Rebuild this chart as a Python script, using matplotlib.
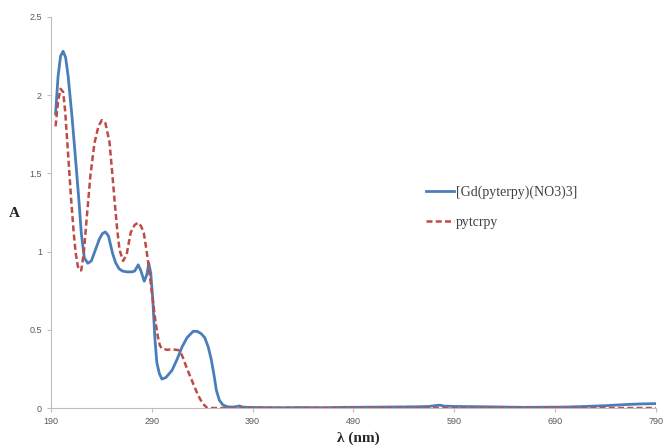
import matplotlib
matplotlib.use("Agg")
import matplotlib.pyplot as plt

# absorption spectra
gd_wl = [194.5, 197, 199.5, 202, 204.5, 207, 211, 215, 218, 220, 223, 226.5, 230,
         234, 238, 241, 244, 247, 251, 254, 257.5, 261, 265.5, 270, 273, 276.5,
         279, 282.5, 285, 287, 289, 291, 293, 295, 297.5, 300, 304, 310, 315,
         320, 325, 331, 335, 339, 342.5, 346, 349, 352, 354, 357, 360.5, 365,
         370, 374, 377, 380, 385, 400, 420, 440, 460, 480, 500, 520, 540, 555,
         565, 572, 576, 580, 590, 605, 620, 640, 660, 680, 700, 720, 740, 760,
         775, 790]
gd_abs = [1.88, 2.12, 2.25, 2.28, 2.24, 2.12, 1.85, 1.54, 1.3, 1.12, 0.96, 0.925,
          0.94, 1.01, 1.08, 1.115, 1.125, 1.1, 0.99, 0.93, 0.89, 0.875, 0.87,
          0.87, 0.875, 0.915, 0.88, 0.81, 0.85, 0.925, 0.86, 0.69, 0.45, 0.29,
          0.22, 0.185, 0.195, 0.24, 0.31, 0.39, 0.45, 0.49, 0.49, 0.475, 0.45,
          0.39, 0.31, 0.2, 0.115, 0.05, 0.02, 0.008, 0.006, 0.009, 0.013, 0.006,
          0.004, 0.003, 0.002, 0.003, 0.002, 0.004, 0.005, 0.006, 0.007, 0.008,
          0.01, 0.016, 0.018, 0.012, 0.01, 0.009, 0.008, 0.006, 0.004, 0.005,
          0.006, 0.01, 0.015, 0.022, 0.026, 0.028]

lig_wl = [194.5, 197, 199.5, 202, 204, 207, 210, 212.5, 214.5, 216.5, 218, 220,
          222.5, 225.5, 229, 233, 237, 240.5, 244, 248, 250.5, 253, 255.5, 258,
          261.5, 265, 269, 273, 276.5, 279.5, 282, 284, 286, 288.5, 291, 293.5,
          296, 298, 300, 305, 310, 316.5, 319, 321, 325, 329.5, 334, 337.5, 341,
          345, 360, 400, 500, 600, 700, 790]
lig_abs = [1.8, 1.96, 2.04, 2.02, 1.9, 1.62, 1.33, 1.12, 0.99, 0.91, 0.88, 0.88,
           0.99, 1.22, 1.48, 1.69, 1.8, 1.84, 1.82, 1.7, 1.52, 1.33, 1.15, 1.01,
           0.94, 0.98, 1.12, 1.17, 1.185, 1.16, 1.12, 1.04, 0.95, 0.82, 0.69,
           0.56, 0.456, 0.4, 0.38, 0.372, 0.375, 0.37, 0.35, 0.32, 0.25, 0.18,
           0.11, 0.062, 0.025, 0.0, 0.0, 0.0, 0.0, 0.0, 0.0, 0.0]

x_ticks = [190, 290, 390, 490, 590, 690, 790]
y_ticks = [0, 0.5, 1, 1.5, 2, 2.5]
y_labels = ["0", "0.5", "1", "1.5", "2", "2.5"]

fig = plt.figure(figsize=(6.66, 4.46), dpi=100)
ax = fig.add_axes([0.0766, 0.0852, 0.908, 0.877])

ax.plot(gd_wl, gd_abs, color="#4a7ebb", lw=2.0, label="[Gd(pyterpy)(NO3)3]")
ax.plot(lig_wl, lig_abs, color="#be4b48", lw=1.8, ls=(0, (2.4, 1.3)),
        label="pytcrpy")

ax.set_xlim(190, 790)
ax.set_ylim(0, 2.5)
ax.set_xticks(x_ticks)
ax.set_yticks(y_ticks)
ax.set_yticklabels(y_labels)
for side in ("top", "right"):
    ax.spines[side].set_visible(False)
for side in ("left", "bottom"):
    ax.spines[side].set_color("#bfbfbf")
ax.tick_params(colors="#bfbfbf", labelcolor="#595959", labelsize=6.5,
               length=3, width=0.8)
for lab in ax.get_xticklabels() + ax.get_yticklabels():
    lab.set_family("Liberation Sans")

fig.text(0.021, 0.522, "A", fontsize=11, fontweight="bold",
         family="Liberation Serif", color="#262626", ha="center", va="center")
fig.text(0.538, 0.018, "λ (nm)", fontsize=11, fontweight="bold",
         family="Liberation Serif", color="#262626", ha="center", va="center")

ax.legend(loc="upper left", bbox_to_anchor=(0.6, 0.6), frameon=False,
          prop={"family": "Liberation Serif", "size": 10}, labelcolor="#404040",
          handlelength=2.0, handletextpad=0.15, labelspacing=1.2)

fig.savefig("out.png", dpi=100)
